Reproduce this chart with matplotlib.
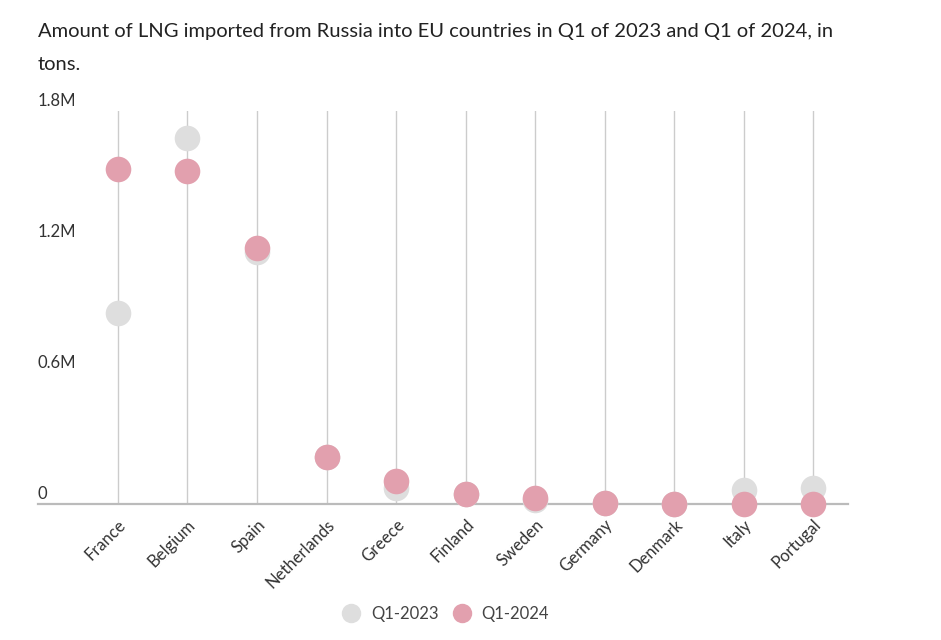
import matplotlib
matplotlib.use("Agg")
import matplotlib.pyplot as plt
import matplotlib.transforms as mtransforms
from matplotlib.lines import Line2D

plt.rcParams['font.family'] = ['Lato', 'DejaVu Sans']

countries = ["France", "Belgium", "Spain", "Netherlands", "Greece", "Finland",
             "Sweden", "Germany", "Denmark", "Italy", "Portugal"]
q1_2023 = [875000, 1677000, 1154000, 215000, 73000, 46000, 18000, 5000, 0, 64000, 73000]
q1_2024 = [1535000, 1525000, 1173000, 215000, 105000, 46000, 28000, 5000, 0, 0, 0]
yticks = [0, 600000, 1200000, 1800000]
ytick_labels = ["0", "0.6M", "1.2M", "1.8M"]
series_names = ["Q1-2023", "Q1-2024"]

c23 = "#dedede"
c24 = "#e2a0ae"

fig = plt.figure(figsize=(9.41, 6.40), dpi=100)
ax = fig.add_axes([38/941, 136/640, (848-38)/941, (504-111)/640])

x = list(range(len(countries)))
for xi in x:
    ax.axvline(xi, color="#cccccc", lw=1, zorder=0)

ax.scatter(x, q1_2023, s=340, color=c23, zorder=3, linewidths=0, clip_on=False)
ax.scatter(x, q1_2024, s=340, color=c24, zorder=4, linewidths=0, clip_on=False)

ax.set_xlim(-1.15, 10.5)
ax.set_ylim(0, 1800000)
for s in ["top", "right", "left"]:
    ax.spines[s].set_visible(False)
ax.spines["bottom"].set_color("#bbbbbb")
ax.spines["bottom"].set_linewidth(1.6)
ax.spines["bottom"].set_zorder(2)
ax.set_yticks([])
ax.set_xticks(x)
ax.set_xticklabels(countries, rotation=45, ha="right", rotation_mode="anchor",
                   fontsize=12, color="#333333")
ax.tick_params(axis="x", length=0, pad=9)

trans = mtransforms.blended_transform_factory(ax.transAxes, ax.transData)
offset = mtransforms.ScaledTranslation(0, 2/100, fig.dpi_scale_trans)
for v, lab in zip(yticks, ytick_labels):
    ax.text(0, v, lab, transform=trans + offset, ha="left", va="bottom",
            fontsize=12, color="#333333")

fig.text(38/941, 1 - 31/640, "Amount of LNG imported from Russia into EU countries in Q1 of 2023 and Q1 of 2024, in",
         fontsize=14.5, color="#222222", va="center", ha="left")
fig.text(38/941, 1 - 64/640, "tons.", fontsize=14.5, color="#222222", va="center", ha="left")

handles = [Line2D([], [], marker="o", ls="", markersize=14, color=c23, markeredgewidth=0),
           Line2D([], [], marker="o", ls="", markersize=14, color=c24, markeredgewidth=0)]
leg = fig.legend(handles, series_names, loc="center", bbox_to_anchor=(445/941, 1 - 614/640),
                 ncol=2, frameon=False, fontsize=12, handletextpad=0.6, columnspacing=0.8,
                 handlelength=1.2)
for t in leg.get_texts():
    t.set_color("#444444")

fig.savefig("out.png", dpi=100)
